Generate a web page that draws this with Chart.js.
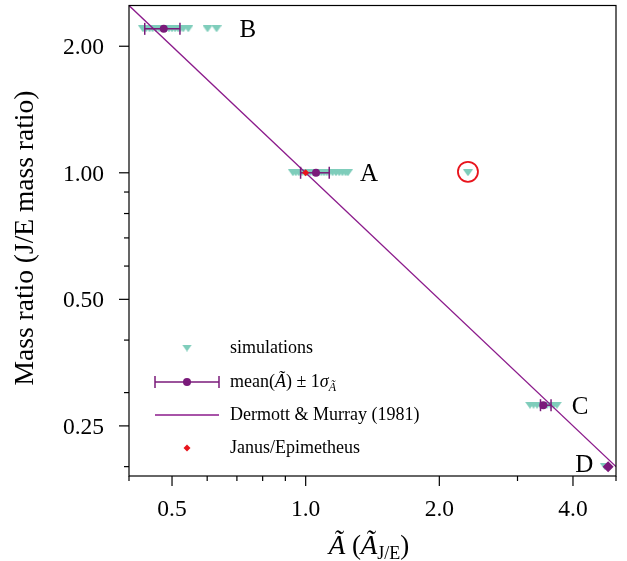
<!DOCTYPE html>
<html><head><meta charset="utf-8">
<script src="https://cdn.jsdelivr.net/npm/chart.js@4/dist/chart.umd.min.js"></script>
<style>html,body{margin:0;padding:0;background:#fff}#c{display:block}</style>
</head><body><canvas id="c" width="627" height="561"></canvas>
<script>
// ---- tick definitions ----
const xTicks=[0.4,0.5,0.6,0.7,0.8,0.9,1.0,2.0,3.0,4.0,5.0];
const xMajor=[0.5,1.0,2.0,4.0];
const xLabels=['0.5','1.0','2.0','4.0'];
const yTicks=[0.2,0.25,0.3,0.4,0.5,0.6,0.7,0.8,0.9,1.0,2.0];
const yMajor=[0.25,0.5,1.0,2.0];
const yLabels=['0.25','0.50','1.00','2.00'];
// ---- simulations ----
const simB_A=[0.430,0.437,0.445,0.452,0.460,0.468,0.476,0.484,0.492,0.500,0.508,0.516,0.522,0.530,0.544,0.601,0.630];
const simB_R=2.2;
const simA_A=[0.936,0.950,0.965,0.980,0.995,1.010,1.025,1.040,1.055,1.070,1.085,1.100,1.115,1.130,1.150,1.170,1.190,1.210,1.230,1.245,2.32];
const simA_R=1.0;
const simC_A=[3.20,3.26,3.32,3.38,3.44,3.50,3.56,3.62,3.68];
const simC_R=0.28;
const simD_A=[4.72];
const simD_R=0.2;
// ---- means +/- 1 sigma ----
const meanA=[0.479,1.055,3.43,4.80];
const meanR=[2.2,1.0,0.28,0.2];
const errLo=[0.434,0.974,3.38,null];
const errHi=[0.521,1.13,3.57,null];
// ---- Dermott & Murray (1981) ----
const dmA=[0.4,5.0];
const dmR=[2.5,0.2];
// ---- Janus/Epimetheus ----
const jeA=[1.0];
const jeR=[1.0];
// ---- highlighted outlier ----
const ringA=[2.32];
const ringR=[1.0];
// ---- group labels ----
const grpText=['B','A','C','D'];
const grpA=[0.741,1.389,4.15,4.24];
const grpR=[2.2,1.0,0.28,0.203];

const TEAL='#7fcdbb', PURPLE='#7a1a7a', LINEP='#8b1a8b', RED='#e8141c';
const SERIF='"Liberation Serif","Times New Roman",serif';

function triCanvas(w,h){const c=document.createElement('canvas');c.width=w;c.height=h;const g=c.getContext('2d');g.fillStyle=TEAL;g.beginPath();g.moveTo(0,0);g.lineTo(w,0);g.lineTo(w/2,h);g.closePath();g.fill();return c;}
const tri=triCanvas(10,7);

const simData=[];
simB_A.forEach(a=>simData.push({x:a,y:simB_R}));
simA_A.forEach(a=>simData.push({x:a,y:simA_R}));
simC_A.forEach(a=>simData.push({x:a,y:simC_R}));
simD_A.forEach(a=>simData.push({x:a,y:simD_R}));

function rich(ctx,segs,x,y,align){
  let w=0;segs.forEach(s=>{ctx.font=s.f;w+=ctx.measureText(s.t).width;});
  let cx=align==='center'?x-w/2:x;
  ctx.textAlign='left';ctx.textBaseline='alphabetic';
  segs.forEach(s=>{ctx.font=s.f;ctx.fillText(s.t,cx,y+(s.dy||0));cx+=ctx.measureText(s.t).width;});
}
function drawCap(ctx,x,y,h){ctx.beginPath();ctx.moveTo(x,y-h/2);ctx.lineTo(x,y+h/2);ctx.stroke();}

const deco={
  id:'deco',
  afterDatasetDraw(chart,args){
    if(args.index!==1) return;
    const ctx=chart.ctx,xs=chart.scales.x,ys=chart.scales.y;
    ctx.save();ctx.strokeStyle=PURPLE;ctx.lineWidth=1.5;
    for(let i=0;i<meanA.length;i++){
      if(errLo[i]==null) continue;
      const y=ys.getPixelForValue(meanR[i]);
      const x1=xs.getPixelForValue(errLo[i]),x2=xs.getPixelForValue(errHi[i]);
      ctx.beginPath();ctx.moveTo(x1,y);ctx.lineTo(x2,y);ctx.stroke();
      drawCap(ctx,x1,y,12);drawCap(ctx,x2,y,12);
    }
    ctx.restore();
  },
  afterDraw(chart){
    const ctx=chart.ctx,xs=chart.scales.x,ys=chart.scales.y,a=chart.chartArea;
    ctx.save();
    // ring
    ctx.strokeStyle=RED;ctx.lineWidth=1.8;
    ringA.forEach((v,i)=>{ctx.beginPath();ctx.arc(xs.getPixelForValue(v),ys.getPixelForValue(ringR[i])-1,10,0,Math.PI*2);ctx.stroke();});
    // frame
    ctx.strokeStyle='#000';ctx.lineWidth=1.2;
    ctx.strokeRect(a.left,a.top,a.right-a.left,a.bottom-a.top);
    // ticks
    ctx.lineWidth=1.2;
    xTicks.forEach(v=>{const x=xs.getPixelForValue(v);const L=xMajor.includes(v)?10:5;ctx.beginPath();ctx.moveTo(x,a.bottom);ctx.lineTo(x,a.bottom+L);ctx.stroke();});
    yTicks.forEach(v=>{const y=ys.getPixelForValue(v);const L=yMajor.includes(v)?10:5;ctx.beginPath();ctx.moveTo(a.left,y);ctx.lineTo(a.left-L,y);ctx.stroke();});
    // tick labels
    ctx.fillStyle='#000';ctx.font='23.5px '+SERIF;ctx.textBaseline='alphabetic';
    ctx.textAlign='center';
    xMajor.forEach((v,i)=>ctx.fillText(xLabels[i],xs.getPixelForValue(v),516));
    ctx.textAlign='right';
    yMajor.forEach((v,i)=>ctx.fillText(yLabels[i],104,ys.getPixelForValue(v)+8));
    // group labels
    ctx.font='25px '+SERIF;ctx.textAlign='center';
    grpText.forEach((t,i)=>ctx.fillText(t,xs.getPixelForValue(grpA[i]),ys.getPixelForValue(grpR[i])+8.5));
    // axis titles
    ctx.save();ctx.translate(33,238);ctx.rotate(-Math.PI/2);ctx.textAlign='center';ctx.font='27.5px '+SERIF;
    ctx.fillText('Mass ratio (J/E mass ratio)',0,0);ctx.restore();
    const N='27px '+SERIF,I='italic 27px '+SERIF,S='18px '+SERIF;
    rich(ctx,[{t:'Ã',f:I},{t:' (',f:N},{t:'Ã',f:I},{t:'J/E',f:S,dy:5},{t:')',f:N}],369,554,'center');
    // legend
    const lx1=155,lx2=219,lc=187,tx=230,rows=[348,382,415,448];
    ctx.drawImage(tri,lc-5,rows[0]-3.5);
    ctx.strokeStyle=PURPLE;ctx.lineWidth=1.5;
    ctx.beginPath();ctx.moveTo(lx1,rows[1]);ctx.lineTo(lx2,rows[1]);ctx.stroke();
    drawCap(ctx,lx1,rows[1],12);drawCap(ctx,lx2,rows[1],12);
    ctx.fillStyle=PURPLE;ctx.beginPath();ctx.arc(lc,rows[1],4,0,Math.PI*2);ctx.fill();
    ctx.strokeStyle=LINEP;ctx.lineWidth=1.3;
    ctx.beginPath();ctx.moveTo(lx1,rows[2]);ctx.lineTo(lx2,rows[2]);ctx.stroke();
    ctx.fillStyle=RED;ctx.beginPath();ctx.moveTo(lc,rows[3]-3.5);ctx.lineTo(lc+3.5,rows[3]);ctx.lineTo(lc,rows[3]+3.5);ctx.lineTo(lc-3.5,rows[3]);ctx.closePath();ctx.fill();
    ctx.fillStyle='#000';
    const LN='18px '+SERIF,LI='italic 18px '+SERIF,LS='italic 12px '+SERIF;
    rich(ctx,[{t:'simulations',f:LN}],tx,rows[0]+5,'left');
    rich(ctx,[{t:'mean(',f:LN},{t:'Ã',f:LI},{t:') ± 1',f:LN},{t:'σ',f:LI},{t:'Ã',f:LS,dy:4}],tx,rows[1]+5,'left');
    rich(ctx,[{t:'Dermott & Murray (1981)',f:LN}],tx,rows[2]+5,'left');
    rich(ctx,[{t:'Janus/Epimetheus',f:LN}],tx,rows[3]+5,'left');
    ctx.restore();
  }
};

new Chart(document.getElementById('c'),{
  type:'scatter',
  data:{datasets:[
    {label:'Janus/Epimetheus',data:jeA.map((v,i)=>({x:v,y:jeR[i]})),pointStyle:'rectRot',pointRadius:3.5,backgroundColor:RED,borderWidth:0,order:1},
    {label:'Dermott & Murray (1981)',data:dmA.map((v,i)=>({x:v,y:dmR[i]})),showLine:true,borderColor:LINEP,borderWidth:1.3,pointRadius:0,order:3},
    {label:'mean',data:meanA.map((v,i)=>({x:v,y:meanR[i]})),pointStyle:['circle','circle','circle','rectRot'],pointRadius:[4,4,4,5.5],backgroundColor:PURPLE,borderWidth:0,order:2},
    {label:'simulations',data:simData,pointStyle:tri,backgroundColor:TEAL,order:4}
  ]},
  options:{
    responsive:false,animation:false,devicePixelRatio:1,
    layout:{padding:{left:0,right:11,top:3,bottom:0}},
    plugins:{legend:{display:false},tooltip:{enabled:false}},
    scales:{
      x:{type:'logarithmic',min:0.4,max:5,grid:{display:false},border:{display:false},ticks:{display:false},afterFit(s){s.height=85;}},
      y:{type:'logarithmic',min:0.19,max:2.5,grid:{display:false},border:{display:false},ticks:{display:false},afterFit(s){s.width=129;}}
    }
  },
  plugins:[deco]
});
</script></body></html>
